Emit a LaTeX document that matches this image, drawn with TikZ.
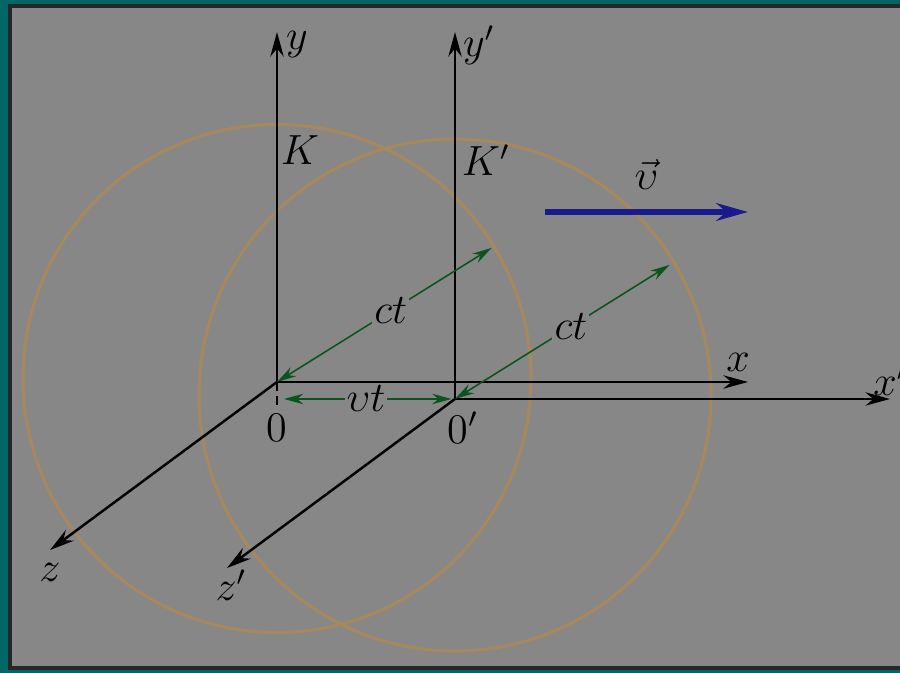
\documentclass[tikz,border=0pt]{standalone}
\usepackage{amssymb}
\usepackage{amsmath}
\usepackage{tikz}
\usetikzlibrary{arrows.meta,calc}

\definecolor{slide}{RGB}{0,102,102}
\definecolor{panel}{RGB}{135,135,135}
\definecolor{ringc}{RGB}{166,136,94}
\definecolor{dimc}{RGB}{12,84,30}
\definecolor{velc}{RGB}{26,26,140}

\begin{document}
\begin{tikzpicture}[
    >=Stealth,
    axis/.style={-{Stealth[length=7pt,width=3.8pt]},line width=0.7pt},
    ring/.style={draw=ringc,line width=0.9pt},
    dim/.style={{Stealth[length=5.5pt,width=3pt]}-{Stealth[length=5.5pt,width=3pt]},draw=dimc,fill=dimc,line width=0.45pt},
    lbl/.style={inner sep=0.6pt,font=\large}
]
\useasboundingbox (0,0) rectangle (9,6.73);

% 背景
\fill[slide] (0,0) rectangle (9,6.73);
\draw[fill=panel,draw=black!85,line width=1pt] (0.10,0.05) rectangle (9.3,6.67);

% 原点和坐标轴端点
\coordinate (O)   at (2.77,2.91);
\coordinate (Op)  at (4.55,2.74);
\coordinate (Otk) at (2.77,2.64);
\coordinate (Oy)  at (2.77,6.41);
\coordinate (Opy) at (4.55,6.41);
\coordinate (Ox)  at (7.48,2.91);
\coordinate (Opx) at (8.90,2.74);
\coordinate (Oz)  at (0.50,1.23);
\coordinate (Opz) at (2.27,1.05);

% 两个球面
\draw[ring] ($(O)+(0,0.035)$)  circle (2.54);
\draw[ring] ($(Op)+(0,0.04)$) circle (2.56);

% K 系
\draw[axis] (O) -- (Oy);
\draw[axis] (O) -- (Ox);
\draw[axis] (O) -- (Oz);

% K' 系
\draw[axis] (Op) -- (Opy);
\draw[axis] (Op) -- (Opx);
\draw[axis] (Op) -- (Opz);

% 光的传播 ct
\coordinate (A)  at ($(O)+(32:2.53)$);
\coordinate (Ap) at ($(Op)+(32:2.53)$);
\draw[dim] (O)  -- node[lbl,fill=panel,pos=0.53] (ct)  {$ct$} (A);
\draw[dim] (Op) -- node[lbl,fill=panel,pos=0.54] (ctp) {$ct$} (Ap);

% 位移 vt
\draw[black,line width=0.5pt,dash pattern=on 2.5pt off 1.5pt] (O) -- (Otk);
\draw[dim,shorten <=2pt,shorten >=1pt] (O|-Op) -- node[lbl,fill=panel] (vt) {$\upsilon t$} (Op);

% 速度
\coordinate (V1) at (5.45,4.61);
\coordinate (V2) at (7.48,4.61);
\draw[velc,line width=1.7pt,-{Stealth[length=9pt,width=5pt]}] (V1) -- node[lbl,text=black,above=5pt] (vel) {$\vec{\upsilon}$} (V2);

% 标签
\node[lbl] (ly)  at (2.97,6.28) {$y$};
\node[lbl] (lyp) at (4.79,6.28) {$y'$};
\node[lbl] (lK)  at (3.00,5.23) {$K$};
\node[lbl] (lKp) at (4.86,5.13) {$K'$};
\node[lbl] (lx)  at (7.38,3.11) {$x$};
\node[lbl] (lxp) at (8.90,2.93) {$x'$};
\node[lbl] (lz)  at (0.50,1.01) {$z$};
\node[lbl] (lzp) at (2.31,0.88) {$z'$};
\node[lbl] (l0)  at (2.77,2.45) {0};
\node[lbl] (l0p) at (4.63,2.45) {0$'$};

\end{tikzpicture}
\end{document}
